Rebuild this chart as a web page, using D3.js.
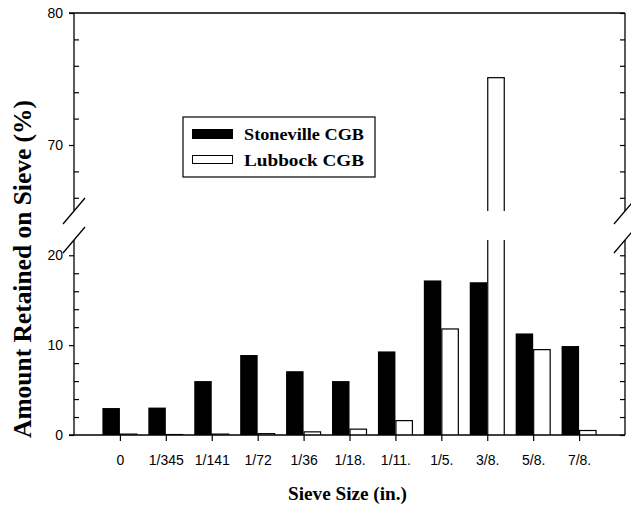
<!DOCTYPE html>
<html><head><meta charset="utf-8">
<script src="https://cdn.jsdelivr.net/npm/d3@7"></script>
<style>body{margin:0;background:#fff}svg{display:block}</style>
</head><body>
<script>
const categories = ["0","1/345","1/141","1/72","1/36","1/18.","1/11.","1/5.","3/8.","5/8.","7/8."];
const stoneville = [3.0, 3.05, 6.0, 8.9, 7.1, 6.0, 9.3, 17.2, 17.0, 11.3, 9.9];
const lubbock = [0.1, 0.05, 0.1, 0.15, 0.35, 0.65, 1.6, 11.8, 75.1, 9.5, 0.5];
const lowMajor = [0, 10, 20];
const lowMinor = [2, 4, 6, 8, 12, 14, 16, 18];
const highMajor = [70, 80];
const highMinor = [66, 68, 72, 74, 76, 78];
const seriesNames = ["Stoneville CGB", "Lubbock CGB"];

const W = 631, H = 508;
const svg = d3.select("body").append("svg").attr("width", W).attr("height", H);
const L = 74, R = 625, B = 435, T = 13, lowTop = 240, highBot = 211;
const x = d3.scaleLinear().domain([-1, 11]).range([L, R]);
const yLow = d3.scaleLinear().domain([0, 21.7]).range([B, lowTop]);
const yHigh = d3.scaleLinear().domain([65, 80]).range([highBot, T]);
const bw = 17.5;

const defs = svg.append("defs");
defs.append("clipPath").attr("id","cLow").append("rect").attr("x",L).attr("y",lowTop).attr("width",R-L).attr("height",B-lowTop);
defs.append("clipPath").attr("id","cHigh").append("rect").attr("x",L).attr("y",T).attr("width",R-L).attr("height",highBot-T);

function drawBars(g, y) {
  const data = categories.map((c,i)=>({i, s: stoneville[i], l: lubbock[i]}));
  g.selectAll("rect.s").data(data).join("rect").attr("class","s")
    .attr("x", d=>x(d.i)-bw).attr("width", bw)
    .attr("y", d=>y(d.s)).attr("height", d=>Math.max(0, y.range()[0]-y(d.s) + 40))
    .attr("fill","#000");
  g.selectAll("rect.l").data(data).join("rect").attr("class","l")
    .attr("x", d=>x(d.i)+0.5).attr("width", bw-1)
    .attr("y", d=>y(d.l)).attr("height", d=>Math.max(0, y.range()[0]-y(d.l) + 40))
    .attr("fill","#fff").attr("stroke","#000").attr("stroke-width",1.2);
}
drawBars(svg.append("g").attr("clip-path","url(#cLow)"), yLow);
drawBars(svg.append("g").attr("clip-path","url(#cHigh)"), yHigh);

const ax = svg.append("g").attr("font-family","Liberation Sans, Arial, sans-serif");
function styleAxis(g){ g.select(".domain").remove(); g.selectAll("line").attr("stroke","#000").attr("stroke-width",1.2); g.selectAll("text").attr("font-size",14).attr("fill","#000").attr("font-family","Liberation Sans, Arial, sans-serif"); }

// left axis
ax.append("g").attr("transform",`translate(${L},0)`).call(d3.axisLeft(yLow).tickValues(lowMajor).tickSize(5).tickPadding(6).tickFormat(d3.format("d"))).call(styleAxis);
ax.append("g").attr("transform",`translate(${L},0)`).call(d3.axisLeft(yLow).tickValues(lowMinor).tickSize(-5).tickFormat("")).call(styleAxis);
ax.append("g").attr("transform",`translate(${L},0)`).call(d3.axisLeft(yHigh).tickValues(highMajor).tickSize(5).tickPadding(6).tickFormat(d3.format("d"))).call(styleAxis);
ax.append("g").attr("transform",`translate(${L},0)`).call(d3.axisLeft(yHigh).tickValues(highMinor).tickSize(-5).tickFormat("")).call(styleAxis);
// right axis
ax.append("g").attr("transform",`translate(${R},0)`).call(d3.axisRight(yLow).tickValues(lowMajor.concat(lowMinor)).tickSize(-5).tickFormat("")).call(styleAxis);
ax.append("g").attr("transform",`translate(${R},0)`).call(d3.axisRight(yHigh).tickValues(highMajor.concat(highMinor)).tickSize(-5).tickFormat("")).call(styleAxis);
// bottom axis
ax.append("g").attr("transform",`translate(0,${B})`).call(d3.axisBottom(x).tickValues(d3.range(categories.length)).tickSize(6).tickPadding(14).tickFormat(i=>categories[i])).call(styleAxis);

// axis lines
const lines = [
  [L-5, B, R, B], [L-5, T, R, T],
  [L, B, L, lowTop], [L, highBot, L, T],
  [R, B, R, lowTop], [R, highBot, R, T]
];
svg.append("g").selectAll("line").data(lines).join("line")
  .attr("x1",d=>d[0]).attr("y1",d=>d[1]).attr("x2",d=>d[2]).attr("y2",d=>d[3])
  .attr("stroke","#000").attr("stroke-width",1.3);
// break marks
const brk = [];
[L, R].forEach(xx => { [highBot, lowTop].forEach(yy => brk.push([xx-11, yy+13, xx+11, yy-13])); });
svg.append("g").selectAll("line").data(brk).join("line")
  .attr("x1",d=>d[0]).attr("y1",d=>d[1]).attr("x2",d=>d[2]).attr("y2",d=>d[3])
  .attr("stroke","#000").attr("stroke-width",1.3);

// titles
const serif = "Liberation Serif, Times New Roman, serif";
svg.append("text").attr("x",347.5).attr("y",500).attr("text-anchor","middle")
  .attr("font-family",serif).attr("font-weight","bold").attr("font-size",19)
  .attr("textLength",119).attr("lengthAdjust","spacingAndGlyphs").text("Sieve Size (in.)");
svg.append("text").attr("transform","translate(31,269) rotate(-90)").attr("text-anchor","middle")
  .attr("font-family",serif).attr("font-weight","bold").attr("font-size",25)
  .attr("textLength",338).attr("lengthAdjust","spacingAndGlyphs").text("Amount Retained on Sieve (%)");

// legend
const lg = svg.append("g");
lg.append("rect").attr("x",183).attr("y",117).attr("width",192).attr("height",60).attr("fill","#fff").attr("stroke","#000").attr("stroke-width",1.2);
lg.append("rect").attr("x",192).attr("y",129).attr("width",41).attr("height",10).attr("fill","#000");
lg.append("rect").attr("x",192.5).attr("y",155.5).attr("width",40).attr("height",8).attr("fill","#fff").attr("stroke","#000").attr("stroke-width",1);
lg.selectAll("text").data(seriesNames).join("text")
  .attr("x",244).attr("y",(d,i)=>i===0?140:166)
  .attr("font-family",serif).attr("font-weight","bold").attr("font-size",17.5)
  .attr("textLength",120).attr("lengthAdjust","spacingAndGlyphs").text(d=>d);
</script>
</body></html>
